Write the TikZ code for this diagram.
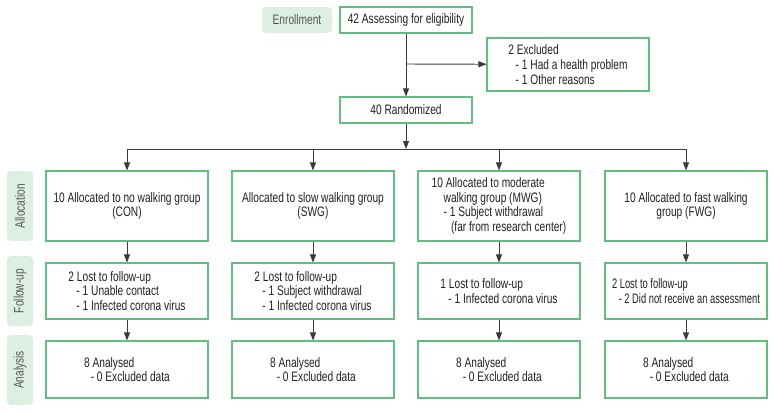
\documentclass[tikz,border=0pt]{standalone}
\usepackage{fontspec}
\setmainfont[FakeStretch=0.74]{Liberation Sans}
\usepackage{tikz}
\usetikzlibrary{arrows.meta,positioning,calc}
\definecolor{boxgreen}{HTML}{62BE80}
\definecolor{tagfill}{HTML}{DDEEE2}
\definecolor{tagtext}{HTML}{555555}
\definecolor{linegray}{HTML}{3A3A3A}
\definecolor{ink}{HTML}{231F20}
\begin{document}
\begin{tikzpicture}[x=0.75pt,y=-0.75pt,every node/.style={font=\fontsize{10.3}{11}\selectfont,text=ink,inner sep=0pt},
b/.style={draw=boxgreen,line width=.8pt,minimum width=121.5pt},
tag/.style={fill=tagfill,rounded corners=3pt,text=tagtext,minimum width=52.5pt,minimum height=19.5pt,rotate=90},
a/.style={-{Triangle[length=6pt,width=4.5pt]},draw=linegray,line width=.7pt}]
\useasboundingbox (0,0) rectangle (774,412);
\node[fill=tagfill,rounded corners=3pt,text=tagtext,minimum width=52.5pt,minimum height=19.5pt] (enr) at (297,20) {Enrollment};
\node[b,minimum width=99pt,minimum height=19.5pt] (assess) at (406,20) {42 Assessing for eligibility};
\node[b,minimum height=39.75pt,align=left] (excl) at (568,64.5) {2 Excluded\\\hspace*{5.5pt}- 1 Had a health problem\\\hspace*{5.5pt}- 1 Other reasons};
\node[b,minimum width=99pt,minimum height=19.5pt] (rand) at (406,110) {40 Randomized};
\coordinate (j) at (406,64);\coordinate (m) at (406,149);
\coordinate (c1) at (127,149);\coordinate (c2) at (313,149);\coordinate (c3) at (499,149);\coordinate (c4) at (686,149);
% allocation
\node[tag] (talloc) at (20,206) {Allocation};
\node[b,minimum height=52.5pt,align=center] (a1) at (127,206) {10 Allocated to no walking group\\(CON)};
\node[b,minimum height=52.5pt,align=center] (a2) at (313,206) {Allocated to slow walking group\\(SWG)};
\node[b,minimum height=52.5pt,align=left] (a3) at (499,206) {10 Allocated to moderate\\\hspace*{9pt}walking group (MWG)\\\hspace*{9pt}- 1 Subject withdrawal\\\hspace*{14.5pt}(far from research center)};
\node[b,minimum height=52.5pt,align=center] (a4) at (686,206) {10 Allocated to fast walking\\group (FWG)};
% follow-up
\node[tag] (tfol) at (20,291) {Follow-up};
\node[b,minimum height=42pt,align=left] (f1) at (127,291) {2 Lost to follow-up\\\hspace*{6pt}- 1 Unable contact\\\hspace*{6pt}- 1 Infected corona virus};
\node[b,minimum height=42pt,align=left] (f2) at (313,291) {2 Lost to follow-up\\\hspace*{6pt}- 1 Subject withdrawal\\\hspace*{6pt}- 1 Infected corona virus};
\node[b,minimum height=42pt,align=left] (f3) at (499,291) {1 Lost to follow-up\\\hspace*{6pt}- 1 Infected corona virus};
\node[b,minimum height=42pt,align=left,font=\fontsize{10.3}{11}\selectfont\addfontfeatures{FakeStretch=0.68}] (f4) at (686,291) {2 Lost to follow-up\\\hspace*{5pt}- 2 Did not receive an assessment};
% analysis
\node[tag] (tana) at (20,370) {Analysis};
\node[b,minimum height=42.75pt,align=left] (n1) at (127,369.5) {8 Analysed\\\hspace*{5pt}- 0 Excluded data};
\node[b,minimum height=42.75pt,align=left] (n2) at (313,369.5) {8 Analysed\\\hspace*{5pt}- 0 Excluded data};
\node[b,minimum height=42.75pt,align=left] (n3) at (499,369.5) {8 Analysed\\\hspace*{5pt}- 0 Excluded data};
\node[b,minimum height=42.75pt,align=left] (n4) at (686,369.5) {8 Analysed\\\hspace*{5pt}- 0 Excluded data};
\draw[a] (assess)--(rand);\draw[a] (j)--(excl);\draw[a] (rand)--(m);
\draw[draw=linegray,line width=.7pt] (c1)--(c4);
\draw[a] (c1)--(a1);\draw[a] (c2)--(a2);\draw[a] (c3)--(a3);\draw[a] (c4)--(a4);
\draw[a] (a1)--(f1);\draw[a] (a2)--(f2);\draw[a] (a3)--(f3);\draw[a] (a4)--(f4);
\draw[a] (f1)--(n1);\draw[a] (f2)--(n2);\draw[a] (f3)--(n3);\draw[a] (f4)--(n4);
\end{tikzpicture}
\end{document}
